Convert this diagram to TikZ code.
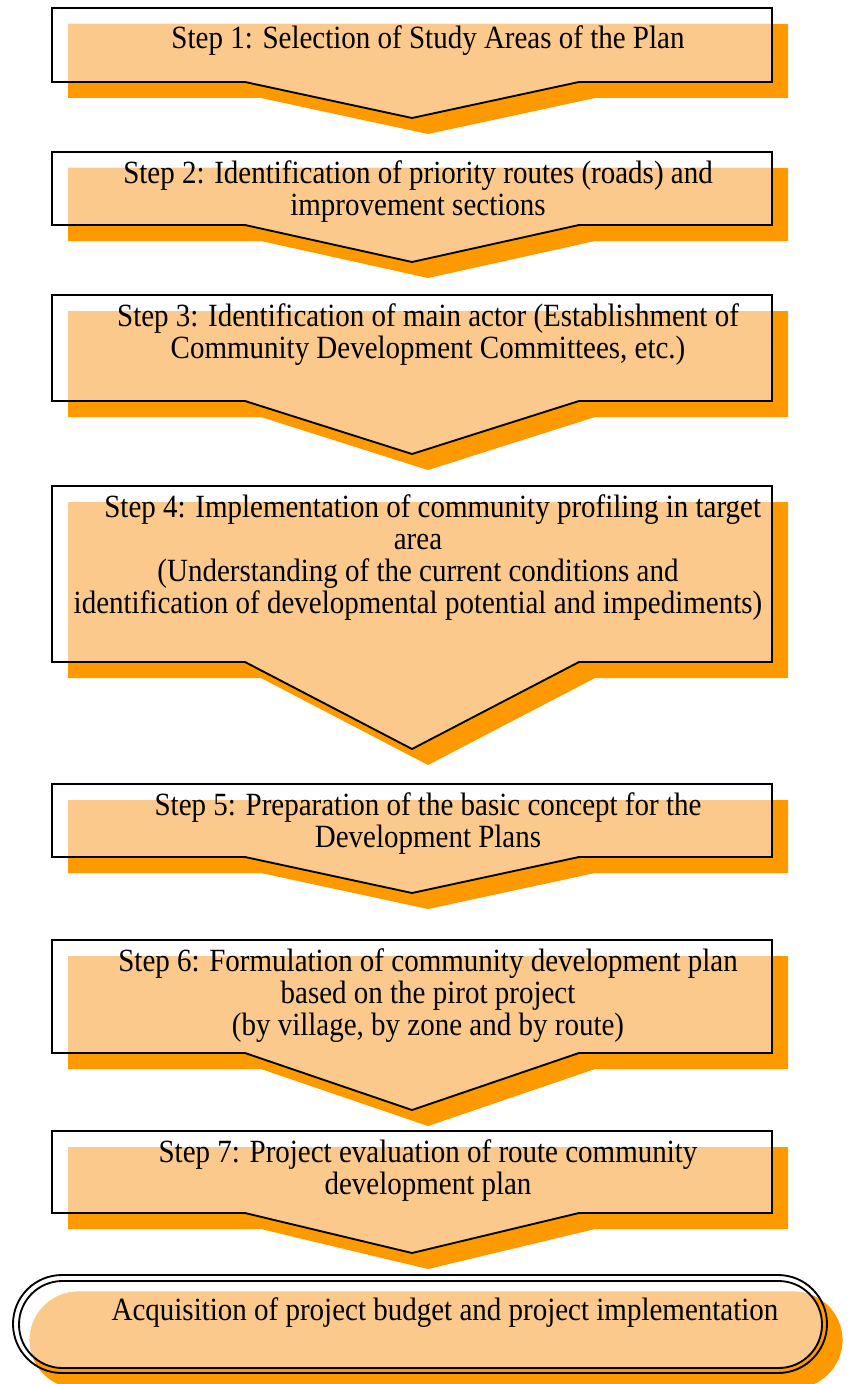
\documentclass[tikz,border=0pt]{standalone}
\usepackage{fontspec}
\setmainfont{Liberation Serif}[FakeStretch=0.895]
\definecolor{shadoworange}{HTML}{FF9900}
\definecolor{peach}{HTML}{FCC98D}
\newcommand\stepshape[3]{%
  \fill[shadoworange] (68,#1+16) -- (788,#1+16) -- (788,#2+16) -- (595,#2+16) -- (428,#3+16) -- (261,#2+16) -- (68,#2+16) -- cycle;
  \begin{scope}
    \clip (52,#1) -- (772,#1) -- (772,#2) -- (579,#2) -- (412,#3) -- (245,#2) -- (52,#2) -- cycle;
    \fill[peach] (68,#1+16) -- (788,#1+16) -- (788,#2+16) -- (595,#2+16) -- (428,#3+16) -- (261,#2+16) -- (68,#2+16) -- cycle;
  \end{scope}
  \draw[outline] (52,#1) -- (772,#1) -- (772,#2) -- (579,#2) -- (412,#3) -- (245,#2) -- (52,#2) -- cycle;
}
\begin{document}
\begin{tikzpicture}[x=0.75pt,y=-0.75pt,
  outline/.style={draw=black,line width=1.4pt,line join=miter},
  steptext/.style={align=center,inner sep=0pt,font=\fontsize{24.3}{24}\selectfont}]
\useasboundingbox (0,0) rectangle (851,1384);
\fill[white] (0,0) rectangle (851,1384);

\stepshape{8}{82}{118}
\stepshape{152}{225}{262}
\stepshape{295}{401}{454}
\stepshape{486}{662}{749}
\stepshape{784}{857}{893}
\stepshape{940}{1053}{1110}
\stepshape{1131}{1213}{1253}

% final rounded box
\fill[shadoworange,rounded corners=36.75pt] (29,1291) rectangle (843,1389);
\begin{scope}
  \clip[rounded corners=32.6pt] (19,1281) rectangle (822,1368);
  \fill[peach,rounded corners=36.75pt] (29,1291) rectangle (843,1389);
\end{scope}
\draw[white,line width=0.6pt,rounded corners=36.75pt] (29,1291) rectangle (843,1389);
\draw[outline,rounded corners=36.75pt] (13,1275) rectangle (827,1373);
\draw[outline,rounded corners=32.6pt] (19,1281) rectangle (822,1368);

\node[steptext] (s1) at (428,41) {Step 1: Selection of Study Areas of the Plan};
\node[steptext] (s2) at (418,192) {Step 2: Identification of priority routes (roads) and\\improvement sections};
\node[steptext] (s3) at (428,335) {Step 3: Identification of main actor (Establishment of\\Community Development Committees, etc.)};
\node[steptext] (s4) at (418,558) {\hspace*{22pt}Step 4: Implementation of community profiling in target\\area\\(Understanding of the current conditions and\\identification of developmental potential and impediments)};
\node[steptext] (s5) at (428,824) {Step 5: Preparation of the basic concept for the\\Development Plans};
\node[steptext] (s6) at (428,996) {Step 6: Formulation of community development plan\\based on the pirot project\\(by village, by zone and by route)};
\node[steptext] (s7) at (428,1171) {Step 7: Project evaluation of route community\\development plan};
\node[steptext] (s8) at (445,1313) {Acquisition of project budget and project implementation};
\end{tikzpicture}
\end{document}
